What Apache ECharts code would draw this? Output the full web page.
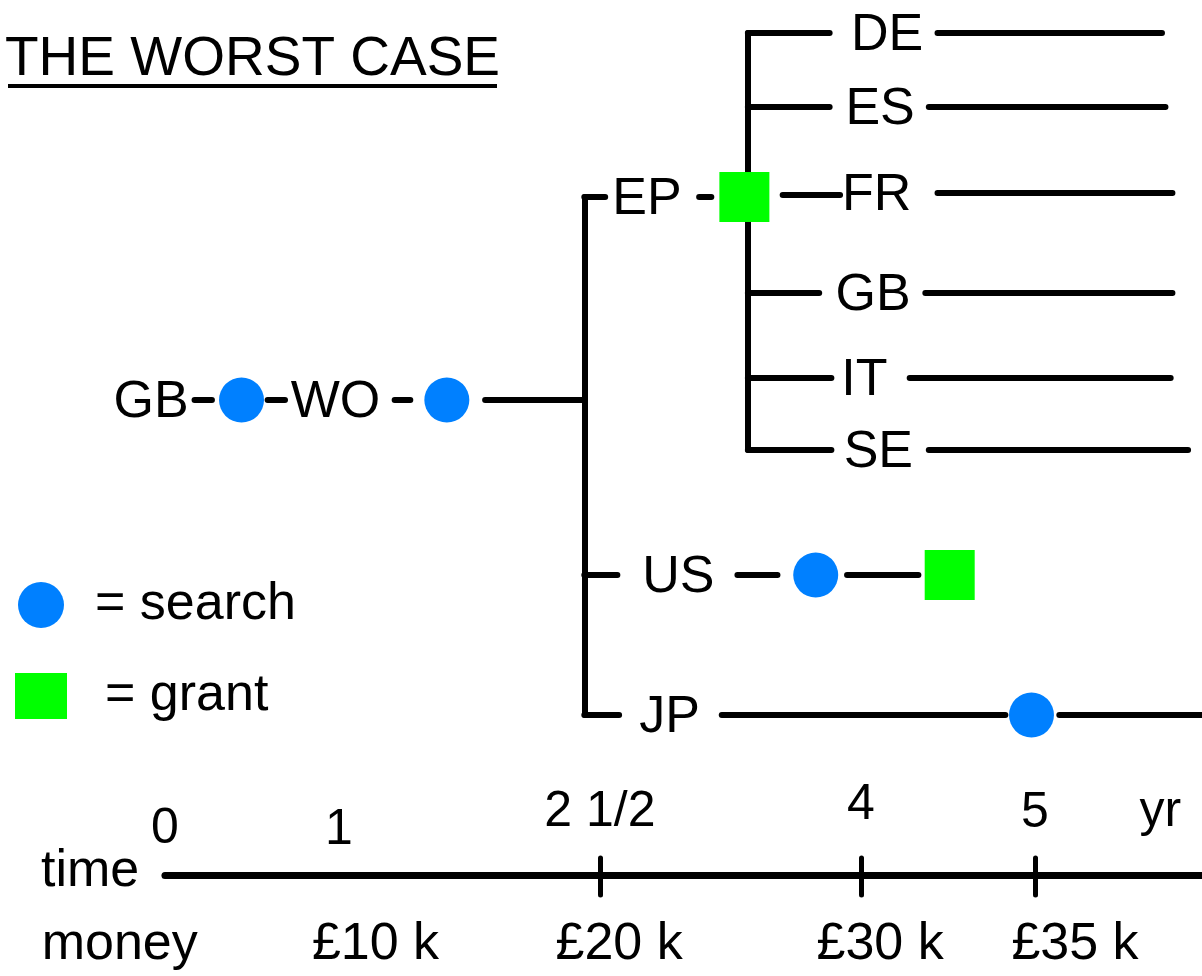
<!DOCTYPE html>
<html>
<head>
<meta charset="utf-8">
<script src="https://cdn.jsdelivr.net/npm/echarts@6/dist/echarts.min.js"></script>
<style>html,body{margin:0;padding:0;background:#fff;}#chart{width:1202px;height:976px;}</style>
</head>
<body>
<div id="chart"></div>
<script>
// x = years after the GB priority filing, y = row (lane) of the family tree
const titleText = 'THE WORST CASE';
const searchName = 'search';
const grantName = 'grant';

// filings: [label, year, row]
const filingLabels = [
  ['GB', -0.08, 400], ['WO', 0.98, 400],
  ['EP', 2.77, 197], ['US', 2.95, 575], ['JP', 2.90, 715],
  ['DE', 4.15, 33], ['ES', 4.11, 107], ['FR', 4.09, 193],
  ['GB', 4.07, 293], ['IT', 4.02, 378], ['SE', 4.10, 450]
];

// searches [year, row] and grants [year, row]
const searchEvents = [[0.44, 400], [1.62, 400], [3.74, 575], [4.98, 715]];
const grantEvents = [[3.33, 197], [4.51, 575]];

// connecting strokes [year1, row1, year2, row2]
const treeLinks = [
  [0.17, 400, 0.27, 400], [0.59, 400, 0.69, 400], [1.32, 400, 1.41, 400], [1.84, 400, 2.41, 400],
  [2.41, 197, 2.41, 715],
  [2.41, 197, 2.53, 197], [3.07, 197, 3.14, 197], [3.55, 195, 3.88, 195],
  [3.35, 33, 3.35, 450],
  [3.35, 33, 3.82, 33], [4.44, 33, 5.73, 33],
  [3.35, 107, 3.82, 107], [4.39, 107, 5.75, 107],
  [4.44, 193, 5.79, 193],
  [3.35, 293, 3.76, 293], [4.37, 293, 5.79, 293],
  [3.35, 378, 3.83, 378], [4.28, 378, 5.78, 378],
  [3.35, 450, 3.83, 450], [4.39, 450, 5.88, 450],
  [2.41, 575, 2.60, 575], [3.29, 575, 3.52, 575], [3.92, 575, 4.33, 575],
  [2.41, 715, 2.61, 715], [3.20, 715, 4.83, 715], [5.14, 715, 5.96, 715]
];

// time scale
const timeStart = 0;
const timeEnd = 5.96;
const timeTicks = [2.5, 4, 5];
const timeLabelYears = [0, 1, 2.5, 4, 5, 5.72];
const timeLabelTexts = ['0', '1', '2 1/2', '4', '5', 'yr'];
const timeLabelRows = [829, 830, 812, 805, 813, 812];

// cumulative cost
const moneyYears = [1.21, 2.61, 4.11, 5.23];
const moneyTexts = ['£10 k', '£20 k', '£30 k', '£35 k'];

const rowTitles = [['time', -0.43, 872], ['money', -0.26, 945]];
const timeRow = 875;
const tickTop = 858, tickBottom = 895;
const moneyRow = 945;

const FONT = 'Liberation Sans, Arial, sans-serif';
const chart = echarts.init(document.getElementById('chart'), null, {renderer: 'canvas'});

const labelSeries = (data, size, dy) => ({
  type: 'scatter', silent: true, clip: false, symbolSize: 1,
  itemStyle: {color: 'rgba(0,0,0,0)', opacity: 1},
  label: {show: true, position: 'inside', formatter: '{b}', color: '#000', opacity: 1,
    textBorderWidth: 0, fontSize: size, fontFamily: FONT, offset: [0, dy || 0]},
  data: data, z: 5
});

const axisLinks = [[timeStart, timeRow, timeEnd, timeRow]];
const tickLinks = timeTicks.map(t => [t, tickTop, t, tickBottom]);

chart.setOption({
  animation: false,
  backgroundColor: '#fff',
  grid: {left: 0, right: 0, top: 0, bottom: 0},
  xAxis: {type: 'value', min: -0.948, max: 5.96, show: false},
  yAxis: {type: 'value', min: 0, max: 976, inverse: true, show: false},
  legend: {
    left: 15, top: 579, orient: 'vertical', itemGap: 39, padding: 0,
    itemWidth: 52, itemHeight: 46, selectedMode: false,
    data: [{name: searchName, icon: 'circle'}, {name: grantName, icon: 'rect'}],
    formatter: n => (n === searchName ? '{s|}= ' : '{g|}= ') + n,
    textStyle: {fontSize: 52, lineHeight: 52, color: '#000', fontFamily: FONT,
      rich: {s: {width: 23}, g: {width: 33}}}
  },
  graphic: [
    {type: 'text', left: 5, top: 32, style: {text: titleText, fontSize: 55, fontFamily: FONT, fill: '#000'}},
    {type: 'rect', left: 8, top: 84, shape: {width: 489, height: 4}, style: {fill: '#000'}}
  ],
  series: [
    {
      type: 'lines', coordinateSystem: 'cartesian2d', silent: true,
      lineStyle: {color: '#000', width: 6, opacity: 1, cap: 'round'},
      data: treeLinks.map(s => ({coords: [[s[0], s[1]], [s[2], s[3]]]})), z: 1
    },
    {
      type: 'lines', coordinateSystem: 'cartesian2d', silent: true,
      lineStyle: {color: '#000', width: 7, opacity: 1, cap: 'round'},
      data: axisLinks.map(s => ({coords: [[s[0], s[1]], [s[2], s[3]]]})), z: 1
    },
    {
      type: 'lines', coordinateSystem: 'cartesian2d', silent: true,
      lineStyle: {color: '#000', width: 5, opacity: 1, cap: 'round'},
      data: tickLinks.map(s => ({coords: [[s[0], s[1]], [s[2], s[3]]]})), z: 1
    },
    {
      name: searchName, type: 'scatter', symbol: 'circle', symbolSize: 45, clip: false,
      itemStyle: {color: '#0080FF', opacity: 1}, data: searchEvents, z: 3
    },
    {
      name: grantName, type: 'scatter', symbol: 'rect', symbolSize: [50, 50], clip: false,
      itemStyle: {color: '#00FF00', opacity: 1}, data: grantEvents, z: 3
    },
    labelSeries(filingLabels.map(f => ({name: f[0], value: [f[1], f[2]]})), 52, 3),
    labelSeries(timeLabelYears.map((t, i) => ({name: timeLabelTexts[i], value: [t, timeLabelRows[i]]})), 50, 0),
    labelSeries(moneyYears.map((t, i) => ({name: moneyTexts[i], value: [t, moneyRow]})), 52, 0),
    labelSeries(rowTitles.map(r => ({name: r[0], value: [r[1], r[2]]})), 52, 0)
  ]
});
</script>
</body>
</html>
